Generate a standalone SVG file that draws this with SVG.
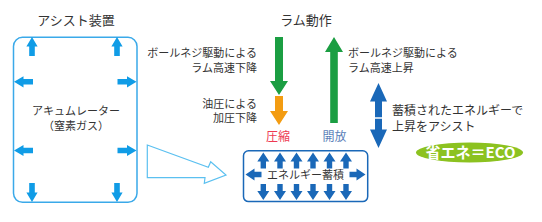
<svg xmlns="http://www.w3.org/2000/svg" xmlns:xlink="http://www.w3.org/1999/xlink" width="542" height="222" viewBox="0 0 542 222">
<defs>
<style>
text{font-family:"Noto Sans CJK JP","Noto Sans",sans-serif;fill:#333;}
.t13{font-size:13px;}
.t11{font-size:11px;}
.t12{font-size:12px;}
.la{fill:#109ce6;}
.db{fill:#1a68b8;}
</style>
<path id="upS" d="M0,0 L5.6,9.5 L2.8,9.5 L2.8,19 L-2.8,19 L-2.8,9.5 L-5.6,9.5 Z"/>
<path id="upE" d="M0,0 L6,9 L2.7,9 L2.7,16 L-2.7,16 L-2.7,9 L-6,9 Z"/>
</defs>
<rect width="542" height="222" fill="#fff"/>

<g id="assist-device">
<text class="t13" x="76" y="25" text-anchor="middle">アシスト装置</text>
<rect x="13.5" y="37.3" width="123.5" height="165" rx="9" fill="none" stroke="#3aa9e9" stroke-width="1.5"/>
<g class="la">
<use xlink:href="#upS" transform="translate(32,37)"/>
<use xlink:href="#upS" transform="translate(117,37)"/>
<use xlink:href="#upS" transform="translate(32,202) rotate(180)"/>
<use xlink:href="#upS" transform="translate(117,202) rotate(180)"/>
<use xlink:href="#upS" transform="translate(14,81.8) rotate(-90)"/>
<use xlink:href="#upS" transform="translate(14,150.5) rotate(-90)"/>
<use xlink:href="#upS" transform="translate(136.5,81.8) rotate(90)"/>
<use xlink:href="#upS" transform="translate(136.5,150.5) rotate(90)"/>
</g>
<text class="t11" x="76" y="115" text-anchor="middle">アキュムレーター</text>
<text class="t11" x="76" y="130" text-anchor="middle">（窒素ガス）</text>
</g>

<g id="ram-title">
<text class="t13" x="306" y="25" text-anchor="middle">ラム動作</text>
</g>

<g id="labels">
<text class="t11" x="257" y="57" text-anchor="end">ボールネジ駆動による</text>
<text class="t11" x="257" y="72" text-anchor="end">ラム高速下降</text>
<text class="t11" x="257" y="107.5" text-anchor="end">油圧による</text>
<text class="t11" x="257" y="122" text-anchor="end">加圧下降</text>
<text class="t11" x="348" y="57">ボールネジ駆動による</text>
<text class="t11" x="348" y="72">ラム高速上昇</text>
<text class="t12" x="278" y="141" text-anchor="middle" style="fill:#ee3a52">圧縮</text>
<text class="t12" x="334.5" y="141" text-anchor="middle" style="fill:#5a80b8">開放</text>
<text class="t12" x="392" y="114.5">蓄積されたエネルギーで</text>
<text class="t12" x="392" y="130.5">上昇をアシスト</text>
</g>

<g id="energy-storage">
<rect x="243.5" y="150.8" width="124.2" height="50.8" rx="5" fill="none" stroke="#1a68b8" stroke-width="1.5"/>
<g class="db">
<use xlink:href="#upE" transform="translate(263.3,152.5)"/>
<use xlink:href="#upE" transform="translate(280,152.5)"/>
<use xlink:href="#upE" transform="translate(296.5,152.5)"/>
<use xlink:href="#upE" transform="translate(313,152.5)"/>
<use xlink:href="#upE" transform="translate(329.5,152.5)"/>
<use xlink:href="#upE" transform="translate(346,152.5)"/>
<use xlink:href="#upE" transform="translate(263.3,200) rotate(180)"/>
<use xlink:href="#upE" transform="translate(280,200) rotate(180)"/>
<use xlink:href="#upE" transform="translate(296.5,200) rotate(180)"/>
<use xlink:href="#upE" transform="translate(313,200) rotate(180)"/>
<use xlink:href="#upE" transform="translate(329.5,200) rotate(180)"/>
<use xlink:href="#upE" transform="translate(346,200) rotate(180)"/>
<use xlink:href="#upE" transform="translate(245.5,174.5) rotate(-90)"/>
<use xlink:href="#upE" transform="translate(365.5,174.5) rotate(90)"/>
</g>
<text class="t11" x="305.5" y="178.5" text-anchor="middle">エネルギー蓄積</text>
</g>

<g id="eco">
<ellipse cx="469.5" cy="152.5" rx="53.5" ry="10" fill="#8cc220"/>
<text x="470.5" y="158" text-anchor="middle" style="font-size:15px;font-weight:bold;fill:#fff">省エネ＝ECO</text>
</g>

<g id="connectors">
<path d="M275,37 H283 V81 H288 L279,95 L270,81 H275 Z" fill="#1b9e42"/>
<path d="M275,96 H283 V111 H288 L279,125 L270,111 H275 Z" fill="#f39c12"/>
<path d="M334,37 L343,52 H337.8 V123 H330.2 V52 H325 Z" fill="#1b9e42"/>
<path d="M378.5,83 L387,101.5 H382 V117.3 H375 V101.5 H370 Z" fill="#1a68b8"/>
<path d="M378.5,148 L387,129.5 H382 V118.8 H375 V129.5 H370 Z" fill="#1a68b8"/>
<polygon points="147.3,145 208.3,167.3 210.7,161.7 226,175 204.3,183.3 205,177.7 147.3,177.7" fill="none" stroke="#5bc0f0" stroke-width="1.2" stroke-linejoin="miter"/>
</g>
</svg>
